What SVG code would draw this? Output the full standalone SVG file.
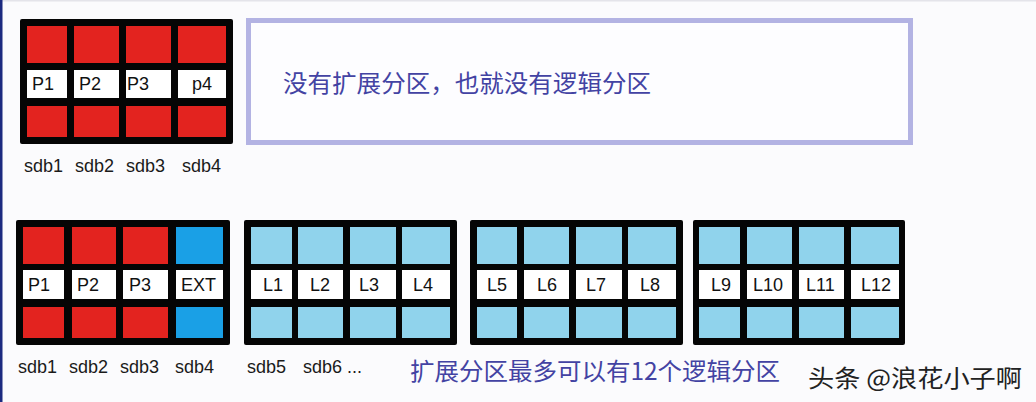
<svg xmlns="http://www.w3.org/2000/svg" width="1036" height="402" viewBox="0 0 1036 402">
<style>
.frame{fill:#050505}
.red{fill:#e3231f}
.ext{fill:#1aa0e6}
.lb{fill:#90d3ec}
.wh{fill:#ffffff}
.lab{font-family:"Liberation Sans",Arial,sans-serif;font-size:18px;fill:#111}
.sdb{font-family:"Liberation Sans",Arial,sans-serif;font-size:18px;fill:#1a1a1a}
.cn{font-family:"Noto Sans CJK SC","Noto Sans",sans-serif;font-size:24px;fill:#4343a3}
.wm{font-family:"Noto Sans CJK SC","Noto Sans",sans-serif;font-size:24px;fill:#222}
</style>
<rect x="0" y="0" width="1036" height="402" fill="#fbfbfd"/>
<rect x="0" y="0" width="1036" height="1.5" fill="#e4e4ea"/>
<rect x="0" y="0" width="2.5" height="402" fill="#1c2a80"/>

<g id="disk-top">
<rect class="frame" x="20" y="19" width="213" height="125" rx="2"/>
<rect class="red" x="27" y="26" width="40" height="37"/>
<rect class="red" x="74" y="26" width="45" height="37"/>
<rect class="red" x="126" y="26" width="45" height="37"/>
<rect class="red" x="178" y="26" width="48" height="37"/>
<rect class="wh" x="27" y="70" width="40" height="28"/>
<rect class="wh" x="74" y="70" width="45" height="28"/>
<rect class="wh" x="126" y="70" width="45" height="28"/>
<rect class="wh" x="178" y="70" width="48" height="28"/>
<rect class="red" x="27" y="106" width="40" height="31"/>
<rect class="red" x="74" y="106" width="45" height="31"/>
<rect class="red" x="126" y="106" width="45" height="31"/>
<rect class="red" x="178" y="106" width="48" height="31"/>
<text class="lab" x="32" y="90">P1</text>
<text class="lab" x="79" y="90">P2</text>
<text class="lab" x="127" y="90">P3</text>
<text class="lab" x="192" y="90">p4</text>
<text class="sdb" x="24" y="172">sdb1</text>
<text class="sdb" x="75" y="172">sdb2</text>
<text class="sdb" x="126" y="172">sdb3</text>
<text class="sdb" x="182" y="172">sdb4</text>
</g>

<g id="note-top">
<rect x="248.5" y="20.5" width="662" height="122" fill="#fdfdff" stroke="#b3b3e3" stroke-width="5"/>
<text class="cn" x="283" y="92" textLength="368" lengthAdjust="spacingAndGlyphs">没有扩展分区，也就没有逻辑分区</text>
</g>

<g id="disk-primary">
<rect class="frame" x="16" y="220" width="214" height="125" rx="2"/>
<rect class="red" x="23" y="227" width="41" height="37"/>
<rect class="red" x="72" y="227" width="44" height="37"/>
<rect class="red" x="123" y="227" width="45" height="37"/>
<rect class="ext" x="176" y="227" width="47" height="37"/>
<rect class="wh" x="23" y="270" width="41" height="29"/>
<rect class="wh" x="72" y="270" width="44" height="29"/>
<rect class="wh" x="123" y="270" width="45" height="29"/>
<rect class="wh" x="176" y="270" width="47" height="29"/>
<rect class="red" x="23" y="307" width="41" height="31"/>
<rect class="red" x="72" y="307" width="44" height="31"/>
<rect class="red" x="123" y="307" width="45" height="31"/>
<rect class="ext" x="176" y="307" width="47" height="31"/>
<text class="lab" x="28" y="291">P1</text>
<text class="lab" x="77" y="291">P2</text>
<text class="lab" x="129" y="291">P3</text>
<text class="lab" x="181" y="291">EXT</text>
<text class="sdb" x="18" y="373">sdb1</text>
<text class="sdb" x="69" y="373">sdb2</text>
<text class="sdb" x="120" y="373">sdb3</text>
<text class="sdb" x="175" y="373">sdb4</text>
</g>

<g id="logical-1">
<rect class="frame" x="244" y="220" width="213" height="125" rx="2"/>
<rect class="lb" x="251" y="227" width="41" height="37"/>
<rect class="lb" x="298" y="227" width="45" height="37"/>
<rect class="lb" x="350" y="227" width="46" height="37"/>
<rect class="lb" x="402" y="227" width="48" height="37"/>
<rect class="wh" x="251" y="270" width="41" height="29"/>
<rect class="wh" x="298" y="270" width="45" height="29"/>
<rect class="wh" x="350" y="270" width="46" height="29"/>
<rect class="wh" x="402" y="270" width="48" height="29"/>
<rect class="lb" x="251" y="307" width="41" height="31"/>
<rect class="lb" x="298" y="307" width="45" height="31"/>
<rect class="lb" x="350" y="307" width="46" height="31"/>
<rect class="lb" x="402" y="307" width="48" height="31"/>
<text class="lab" x="263" y="291">L1</text>
<text class="lab" x="310" y="291">L2</text>
<text class="lab" x="359" y="291">L3</text>
<text class="lab" x="413" y="291">L4</text>
<text class="sdb" x="247" y="373">sdb5</text>
<text class="sdb" x="303" y="373">sdb6 ...</text>
</g>

<g id="logical-2">
<rect class="frame" x="470" y="220" width="213" height="125" rx="2"/>
<rect class="lb" x="477" y="227" width="40" height="37"/>
<rect class="lb" x="524" y="227" width="45" height="37"/>
<rect class="lb" x="576" y="227" width="46" height="37"/>
<rect class="lb" x="628" y="227" width="48" height="37"/>
<rect class="wh" x="477" y="270" width="40" height="29"/>
<rect class="wh" x="524" y="270" width="45" height="29"/>
<rect class="wh" x="576" y="270" width="46" height="29"/>
<rect class="wh" x="628" y="270" width="48" height="29"/>
<rect class="lb" x="477" y="307" width="40" height="31"/>
<rect class="lb" x="524" y="307" width="45" height="31"/>
<rect class="lb" x="576" y="307" width="46" height="31"/>
<rect class="lb" x="628" y="307" width="48" height="31"/>
<text class="lab" x="487" y="291">L5</text>
<text class="lab" x="537" y="291">L6</text>
<text class="lab" x="586" y="291">L7</text>
<text class="lab" x="640" y="291">L8</text>
</g>

<g id="logical-3">
<rect class="frame" x="693" y="220" width="212" height="125" rx="2"/>
<rect class="lb" x="699" y="227" width="41" height="37"/>
<rect class="lb" x="747" y="227" width="45" height="37"/>
<rect class="lb" x="799" y="227" width="45" height="37"/>
<rect class="lb" x="851" y="227" width="48" height="37"/>
<rect class="wh" x="699" y="270" width="41" height="29"/>
<rect class="wh" x="747" y="270" width="45" height="29"/>
<rect class="wh" x="799" y="270" width="45" height="29"/>
<rect class="wh" x="851" y="270" width="48" height="29"/>
<rect class="lb" x="699" y="307" width="41" height="31"/>
<rect class="lb" x="747" y="307" width="45" height="31"/>
<rect class="lb" x="799" y="307" width="45" height="31"/>
<rect class="lb" x="851" y="307" width="48" height="31"/>
<text class="lab" x="711" y="291">L9</text>
<text class="lab" x="753" y="291">L10</text>
<text class="lab" x="806" y="291">L11</text>
<text class="lab" x="861" y="291">L12</text>
</g>

<g id="note-bottom">
<text class="cn" x="410" y="380" textLength="370" lengthAdjust="spacingAndGlyphs">扩展分区最多可以有12个逻辑分区</text>
</g>

<g id="watermark">
<text class="wm" x="808" y="387" textLength="214" lengthAdjust="spacingAndGlyphs">头条 @浪花小子啊</text>
</g>

<g id="connectors"/>
</svg>
